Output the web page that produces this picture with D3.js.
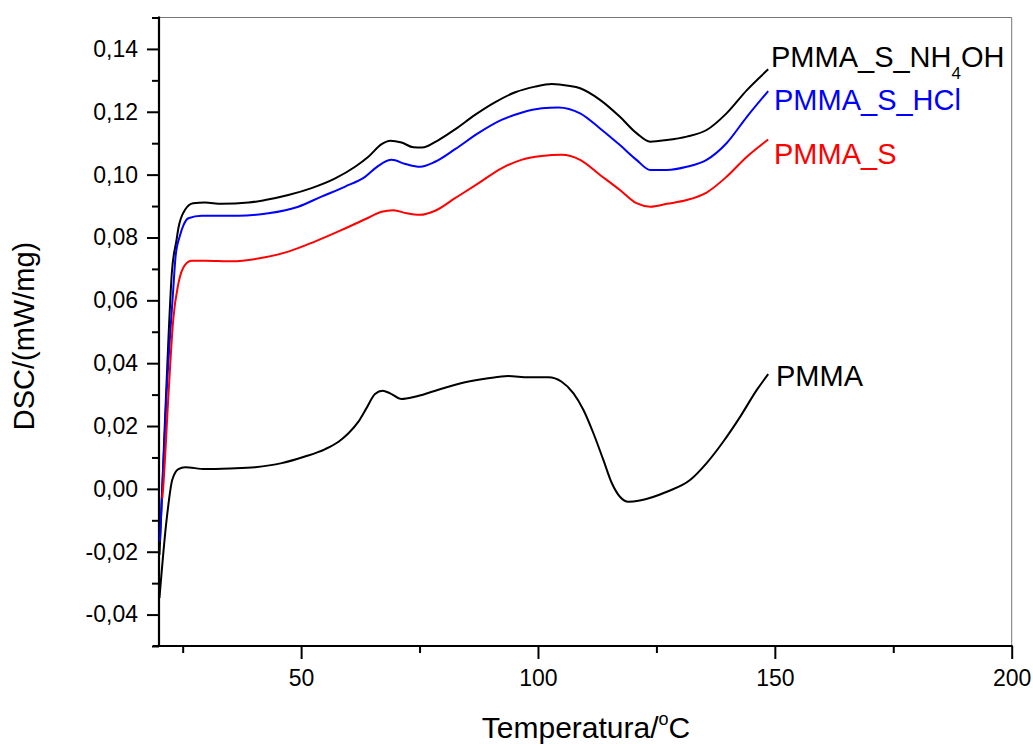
<!DOCTYPE html>
<html>
<head>
<meta charset="utf-8">
<script src="https://cdn.jsdelivr.net/npm/d3@7"></script>
<style>
  html, body { margin: 0; padding: 0; background: #fff; }
  svg { display: block; }
  text { font-family: "Liberation Sans", Arial, sans-serif; }
</style>
</head>
<body>
<svg id="chart" width="1033" height="744"></svg>
<script>
// ---------------- data ----------------
const tPMMA = [20.1, 21.6, 22.8, 24.1, 25.5, 29.7, 35.0, 40.3, 45.9, 50.8, 55.0, 57.9, 60.0, 62.1, 63.8, 65.6, 67.2, 68.8, 71.2, 74.0, 77.6, 81.1, 84.6, 89.5, 93.7, 98.0, 102.2, 105.0, 107.5, 109.6, 111.7, 113.8, 115.6, 117.3, 119.1, 121.5, 127.2, 132.1, 135.6, 139.1, 142.7, 146.2, 148.6];
const vPMMA = [-0.0347, -0.0099, 0.0029, 0.0063, 0.0069, 0.0063, 0.0065, 0.0069, 0.0082, 0.0103, 0.0126, 0.0150, 0.0177, 0.0214, 0.0257, 0.0302, 0.0312, 0.0304, 0.0286, 0.0293, 0.0309, 0.0325, 0.0339, 0.0352, 0.0359, 0.0355, 0.0355, 0.0341, 0.0304, 0.0251, 0.0177, 0.0092, 0.0018, -0.0025, -0.0041, -0.0037, -0.0009, 0.0028, 0.0082, 0.0150, 0.0230, 0.0315, 0.0365];

const tNH4OH = [20.1, 21.0, 22.0, 22.7, 23.7, 24.1, 25.5, 27.2, 29.7, 33.2, 38.9, 42.4, 47.3, 52.2, 57.2, 61.4, 64.2, 67.0, 68.8, 71.2, 73.7, 75.5, 79.0, 82.5, 86.7, 90.9, 95.2, 99.4, 102.9, 106.4, 108.9, 113.1, 117.3, 120.8, 123.7, 127.2, 131.4, 135.6, 139.8, 144.1, 148.6];
const vNH4OH = [-0.021, 0.012, 0.048, 0.0686, 0.0792, 0.0830, 0.0888, 0.0909, 0.0911, 0.0907, 0.0911, 0.0919, 0.0935, 0.0957, 0.0988, 0.1025, 0.1057, 0.1097, 0.1108, 0.1102, 0.1087, 0.1086, 0.1110, 0.1144, 0.1190, 0.1230, 0.1262, 0.1280, 0.1288, 0.1283, 0.1275, 0.1238, 0.1184, 0.1132, 0.1105, 0.1110, 0.1121, 0.1142, 0.1195, 0.1269, 0.1335];

const tHCl = [20.2, 21.6, 23.0, 23.5, 24.4, 25.2, 26.2, 29.0, 36.7, 43.1, 49.4, 54.3, 59.3, 63.5, 66.3, 69.1, 72.0, 75.1, 78.3, 82.5, 87.4, 92.3, 96.5, 100.8, 104.3, 108.9, 113.1, 117.3, 120.8, 123.7, 127.2, 131.4, 135.6, 139.8, 144.1, 148.6];
const vHCl = [-0.0168, 0.0304, 0.0633, 0.0740, 0.0805, 0.0840, 0.0861, 0.0869, 0.0869, 0.0877, 0.0898, 0.0930, 0.0962, 0.0993, 0.1028, 0.1047, 0.1034, 0.1025, 0.1041, 0.1081, 0.1132, 0.1174, 0.1197, 0.1211, 0.1214, 0.1195, 0.1147, 0.1094, 0.1047, 0.1015, 0.1015, 0.1025, 0.1047, 0.1100, 0.1184, 0.1266];

const tS = [20.7, 20.9, 22.0, 23.0, 24.1, 25.5, 26.9, 29.7, 35.3, 42.4, 47.3, 52.9, 58.6, 63.5, 67.0, 69.5, 72.3, 75.1, 78.3, 82.5, 87.4, 92.3, 96.5, 100.8, 105.0, 108.9, 113.1, 117.3, 120.8, 123.7, 127.2, 131.4, 135.6, 139.8, 144.1, 148.6];
const vS = [-0.003, 0.0007, 0.030, 0.0538, 0.0654, 0.0713, 0.0726, 0.0726, 0.0724, 0.0737, 0.0755, 0.0787, 0.0824, 0.0858, 0.0882, 0.0887, 0.0877, 0.0872, 0.0885, 0.0925, 0.0972, 0.1020, 0.1047, 0.1059, 0.1063, 0.1047, 0.0999, 0.0951, 0.0909, 0.0898, 0.0907, 0.0919, 0.0943, 0.0993, 0.1057, 0.1112];

const seriesNames = ["PMMA_S_NH4OH", "PMMA_S_HCl", "PMMA_S", "PMMA"];
const seriesColors = ["#000000", "#0000ff", "#ff0000", "#000000"];

const xMajorTicks = [50, 100, 150, 200];
const xMinorTicks = [25, 75, 125, 175];
const yMajorTicks = [-0.04, -0.02, 0.00, 0.02, 0.04, 0.06, 0.08, 0.10, 0.12, 0.14];
const yMinorTicks = [-0.05, -0.03, -0.01, 0.01, 0.03, 0.05, 0.07, 0.09, 0.11, 0.13, 0.15];

const xTitle = "Temperatura/";
const yTitle = "DSC/(mW/mg)";

// ---------------- layout ----------------
const svg = d3.select("#chart");
const L = 159, R = 1011.7, T = 17.5, B = 646;
const x = d3.scaleLinear().domain([20, 200]).range([L, R]);
const y = d3.scaleLinear().domain([-0.05, 0.15]).range([B, T]);

// frame (top & right thin)
svg.append("line").attr("x1", L).attr("x2", R).attr("y1", T).attr("y2", T)
  .attr("stroke", "#777").attr("stroke-width", 1);
svg.append("line").attr("x1", R).attr("x2", R).attr("y1", T).attr("y2", B)
  .attr("stroke", "#777").attr("stroke-width", 1);

const fmt = d => {
  const s = Math.abs(d) < 1e-9 ? "0.00" : d.toFixed(2);
  return s.replace(".", ",");
};

// y axis
const yAxisMajor = d3.axisLeft(y).tickValues(yMajorTicks).tickSize(12).tickPadding(9).tickFormat(fmt);
const gy = svg.append("g").attr("transform", `translate(${L},0)`).call(yAxisMajor);
gy.select(".domain").remove();
gy.selectAll(".tick line").attr("stroke", "#000").attr("stroke-width", 2);
gy.selectAll(".tick text").attr("font-size", 23).attr("fill", "#000")
  .attr("font-family", "Liberation Sans, Arial, sans-serif");
const gyMinor = svg.append("g").attr("transform", `translate(${L},0)`)
  .call(d3.axisLeft(y).tickValues(yMinorTicks).tickSize(7).tickFormat(""));
gyMinor.select(".domain").remove();
gyMinor.selectAll(".tick line").attr("stroke", "#000").attr("stroke-width", 2);

// x axis
const gx = svg.append("g").attr("transform", `translate(0,${B})`)
  .call(d3.axisBottom(x).tickValues(xMajorTicks).tickSize(13).tickPadding(11).tickFormat(d3.format("d")));
gx.select(".domain").remove();
gx.selectAll(".tick line").attr("stroke", "#000").attr("stroke-width", 2);
gx.selectAll(".tick text").attr("font-size", 23).attr("fill", "#000")
  .attr("font-family", "Liberation Sans, Arial, sans-serif");
const gxMinor = svg.append("g").attr("transform", `translate(0,${B})`)
  .call(d3.axisBottom(x).tickValues(xMinorTicks).tickSize(7).tickFormat(""));
gxMinor.select(".domain").remove();
gxMinor.selectAll(".tick line").attr("stroke", "#000").attr("stroke-width", 2);

// axis lines (thick)
svg.append("line").attr("x1", L).attr("x2", L).attr("y1", T - 1).attr("y2", B + 1)
  .attr("stroke", "#000").attr("stroke-width", 2.2);
svg.append("line").attr("x1", L - 6).attr("x2", R + 1).attr("y1", B).attr("y2", B)
  .attr("stroke", "#000").attr("stroke-width", 2.2);

// curves
const line = d3.line().x(d => x(d[0])).y(d => y(d[1])).curve(d3.curveMonotoneX);
const curves = [
  [tNH4OH, vNH4OH],
  [tHCl, vHCl],
  [tS, vS],
  [tPMMA, vPMMA]
];
curves.forEach((c, i) => {
  const pts = c[0].map((t, j) => [t, c[1][j]]);
  svg.append("path").datum(pts).attr("d", line)
    .attr("fill", "none").attr("stroke", seriesColors[i])
    .attr("stroke-width", 2).attr("stroke-linejoin", "round");
});

// series labels
const labelPos = [[771, 66.5], [774, 110], [774, 164], [776, 386]];
labelPos.forEach((p, i) => {
  const t = svg.append("text").attr("x", p[0]).attr("y", p[1])
    .attr("font-size", 29).attr("fill", seriesColors[i]);
  if (seriesNames[i] === "PMMA_S_NH4OH") {
    t.append("tspan").text("PMMA_S_NH");
    t.append("tspan").attr("font-size", 17).attr("dy", 12).text("4");
    t.append("tspan").attr("dy", -12).text("OH");
  } else {
    t.text(seriesNames[i]);
  }
});

// axis titles
const xt = svg.append("text").attr("x", 586).attr("y", 738)
  .attr("text-anchor", "middle").attr("font-size", 30).attr("fill", "#000");
xt.append("tspan").text(xTitle);
xt.append("tspan").attr("font-size", 18).attr("dy", -13).text("o");
xt.append("tspan").attr("dy", 13).text("C");

svg.append("text").attr("transform", "translate(34,336) rotate(-90)")
  .attr("text-anchor", "middle").attr("font-size", 29).attr("fill", "#000")
  .text(yTitle);
</script>
</body>
</html>
